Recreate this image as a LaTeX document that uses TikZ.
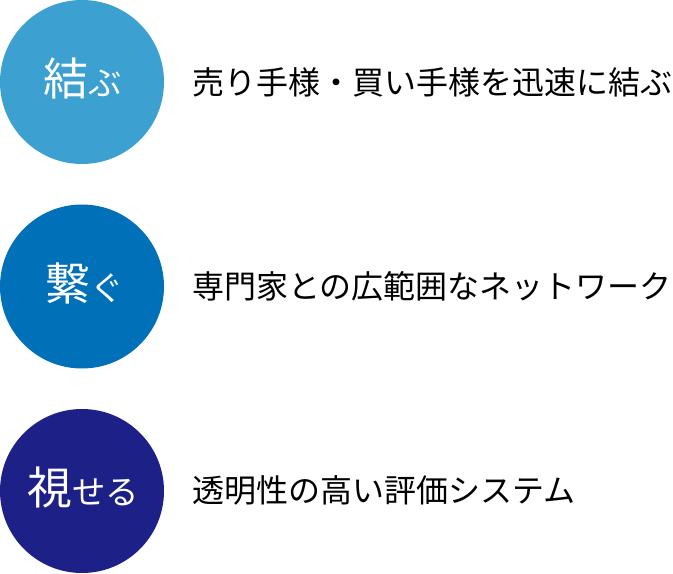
\documentclass[tikz,border=0pt]{standalone}
\usepackage{fontspec}
\newfontfamily\cjk{Noto Sans CJK JP}
\definecolor{musubu}{HTML}{3CA0D0}
\definecolor{tsunagu}{HTML}{0071B9}
\definecolor{miseru}{HTML}{1D2087}
\tikzset{
  badge/.style={circle,minimum size=3.28cm,inner sep=0pt},
  badgetext/.style={inner sep=0pt,text=white,font=\cjk},
  desc/.style={anchor=west,inner sep=0pt,font=\cjk\fontsize{18.2pt}{22pt}\selectfont}
}
\newcommand{\bigchar}[1]{{\fontsize{25.5pt}{28pt}\selectfont #1}}
\newcommand{\smallchar}[1]{{\fontsize{19pt}{28pt}\selectfont #1}}
\begin{document}
\begin{tikzpicture}
  \useasboundingbox (0,0) rectangle (13.46,11.46);

  \node[badge,fill=musubu]  (c1) at (1.64,9.82) {};
  \node[badge,fill=tsunagu] (c2) at (1.64,5.73) {};
  \node[badge,fill=miseru]  (c3) at (1.64,1.64) {};

  \node[badgetext] (l1) at (1.66,9.88) {\bigchar{結}\smallchar{ぶ}};
  \node[badgetext] (l2) at (1.70,5.80) {\bigchar{繋}\smallchar{ぐ}};
  \node[badgetext] (l3) at (1.66,1.72) {\bigchar{視}\smallchar{せる}};

  \node[desc] (t1) at (3.84,9.81) {売り手様・買い手様を迅速に結ぶ};
  \node[desc] (t2) at (3.84,5.74) {専門家との広範囲なネットワーク};
  \node[desc] (t3) at (3.84,1.65) {透明性の高い評価システム};

\end{tikzpicture}
\end{document}
